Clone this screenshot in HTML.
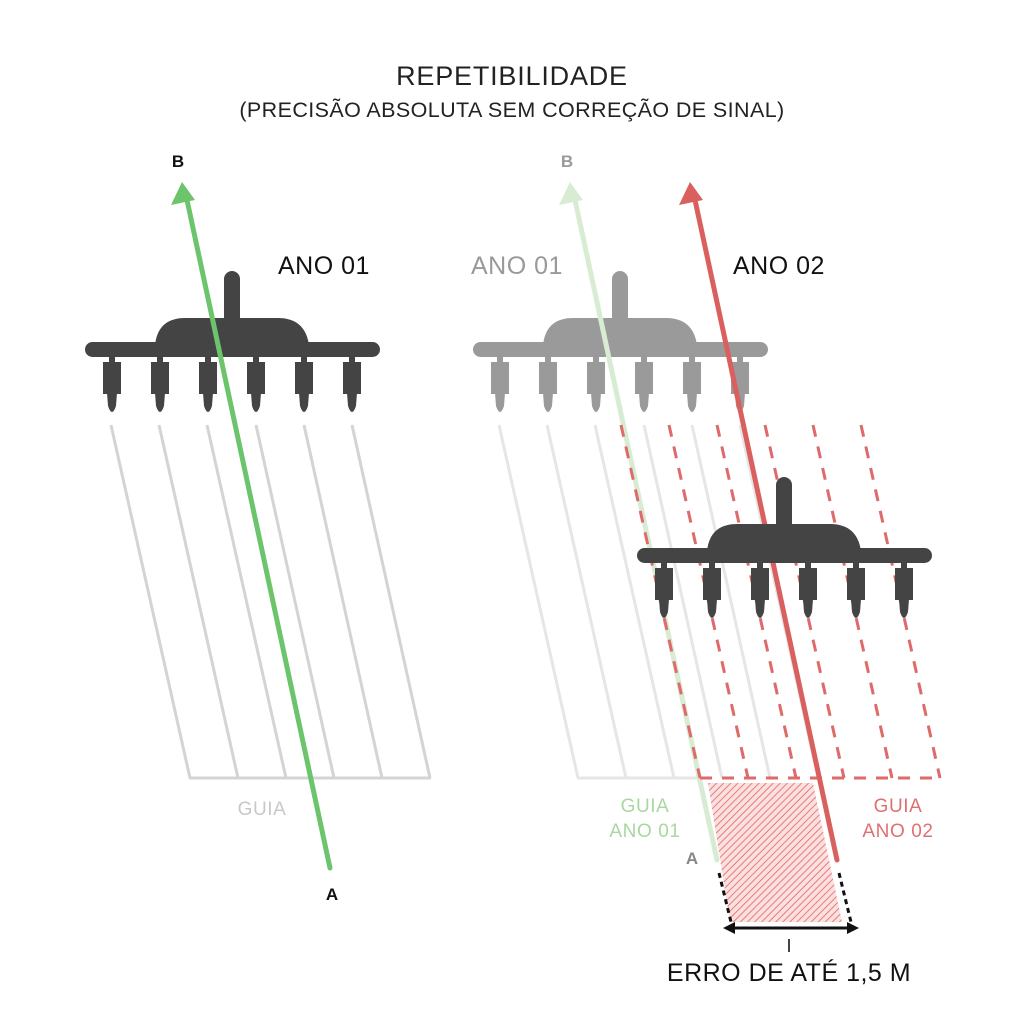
<!DOCTYPE html>
<html><head><meta charset="utf-8"><style>
html,body{margin:0;padding:0;background:#fff}
svg{display:block}
text{font-family:"Liberation Sans",sans-serif}
</style></head><body>
<svg width="1024" height="1024" viewBox="0 0 1024 1024" xmlns="http://www.w3.org/2000/svg">
<defs>
<g id="imp">
  <rect x="85" y="342" width="295" height="15" rx="7.5"/>
  <path d="M155 345 Q158 318 185 318 L278 318 Q305 318 309 345 Z"/>
  <rect x="224" y="271" width="16" height="55" rx="8"/>
  <g id="noz">
    <rect x="109" y="354" width="6" height="10"/>
    <rect x="103" y="362" width="18" height="32"/>
    <path d="M107 393 L117 393 L116 406 Q112 418 108 406 Z"/>
  </g>
  <use href="#noz" x="48"/><use href="#noz" x="96"/><use href="#noz" x="144"/><use href="#noz" x="192"/><use href="#noz" x="240"/>
</g>
<pattern id="hatch" width="5" height="5" patternUnits="userSpaceOnUse" patternTransform="rotate(45)">
  <rect width="5" height="5" fill="#fbe0e0"/>
  <line x1="0" y1="0" x2="0" y2="5" stroke="#e87b7b" stroke-width="2"/>
</pattern>
</defs>

<text x="512" y="85" font-size="27" letter-spacing="0.8" text-anchor="middle" fill="#222">REPETIBILIDADE</text>
<text x="512" y="117" font-size="21.5" letter-spacing="0.4" text-anchor="middle" fill="#222">(PRECISÃO ABSOLUTA SEM CORREÇÃO DE SINAL)</text>

<!-- LEFT -->
<g stroke="#d4d4d4" stroke-width="3" fill="none">
  <line x1="111" y1="425" x2="190" y2="778"/>
  <line x1="159" y1="425" x2="238" y2="778"/>
  <line x1="207" y1="425" x2="286" y2="778"/>
  <line x1="256" y1="425" x2="334" y2="778"/>
  <line x1="304" y1="425" x2="382" y2="778"/>
  <line x1="352" y1="425" x2="430" y2="778"/>
  <line x1="189" y1="778" x2="431" y2="778"/>
</g>
<use href="#imp" fill="#444"/>
<line x1="330" y1="868" x2="187" y2="200" stroke="#6cc46c" stroke-width="5" stroke-linecap="round"/>
<polygon points="182,182 171,205 195,200" fill="#6cc46c"/>
<text x="178" y="167" font-size="17" font-weight="bold" text-anchor="middle" fill="#111">B</text>
<text x="332" y="900" font-size="17" font-weight="bold" text-anchor="middle" fill="#111">A</text>
<text x="278" y="274" font-size="25" letter-spacing="0.5" fill="#111">ANO 01</text>
<text x="262" y="815" font-size="19" letter-spacing="0.6" text-anchor="middle" fill="#c8c8c8">GUIA</text>

<!-- RIGHT -->
<g stroke="#e6e6e6" stroke-width="3" fill="none">
  <line x1="499" y1="425" x2="578" y2="778"/>
  <line x1="547" y1="425" x2="626" y2="778"/>
  <line x1="595" y1="425" x2="674" y2="778"/>
  <line x1="644" y1="425" x2="722" y2="778"/>
  <line x1="692" y1="425" x2="770" y2="778"/>
  <line x1="740" y1="425" x2="818" y2="778"/>
  <line x1="577" y1="778" x2="702" y2="778"/>
</g>
<use href="#imp" fill="#9a9a9a" transform="translate(388,0)"/>
<polygon points="708,783 813,783 842,922 730,922" fill="url(#hatch)"/>
<line x1="717" y1="860" x2="575" y2="200" stroke="#d8ecd4" stroke-width="5" stroke-linecap="round"/>
<polygon points="570,182 559,205 583,200" fill="#d8ecd4"/>
<g stroke="#de6a6a" stroke-width="3" fill="none" stroke-dasharray="12,10">
  <line x1="621" y1="425" x2="700" y2="778"/>
  <line x1="669" y1="425" x2="748" y2="778"/>
  <line x1="717" y1="425" x2="796" y2="778"/>
  <line x1="765" y1="425" x2="844" y2="778"/>
  <line x1="813" y1="425" x2="892" y2="778"/>
  <line x1="861" y1="425" x2="940" y2="778"/>
  <line x1="700" y1="778" x2="942" y2="778"/>
</g>
<line x1="837" y1="860" x2="695" y2="200" stroke="#d9605f" stroke-width="5" stroke-linecap="round"/>
<polygon points="690,182 679,205 703,200" fill="#d9605f"/>
<use href="#imp" fill="#444" transform="translate(552,206)"/>
<g stroke="#111" stroke-width="3" stroke-dasharray="5,4">
  <line x1="719" y1="873" x2="731" y2="922"/>
  <line x1="839" y1="873" x2="851" y2="922"/>
</g>
<line x1="732" y1="928" x2="851" y2="928" stroke="#111" stroke-width="3"/>
<polygon points="723,928 735,922 735,934" fill="#111"/>
<polygon points="859,928 847,922 847,934" fill="#111"/>
<line x1="789" y1="939" x2="789" y2="952" stroke="#444" stroke-width="2"/>
<text x="789" y="981" font-size="25" letter-spacing="0.5" text-anchor="middle" fill="#111">ERRO DE ATÉ 1,5 M</text>
<text x="567" y="167" font-size="17" font-weight="bold" text-anchor="middle" fill="#999">B</text>
<text x="692" y="864" font-size="17" font-weight="bold" text-anchor="middle" fill="#888">A</text>
<text x="471" y="274" font-size="25" letter-spacing="0.5" fill="#999">ANO 01</text>
<text x="733" y="274" font-size="25" letter-spacing="0.5" fill="#111">ANO 02</text>
<text x="645" y="812" font-size="19" letter-spacing="0.6" text-anchor="middle" fill="#a8d8a0">GUIA</text>
<text x="645" y="837" font-size="19" letter-spacing="0.6" text-anchor="middle" fill="#a8d8a0">ANO 01</text>
<text x="898" y="812" font-size="19" letter-spacing="0.6" text-anchor="middle" fill="#e07070">GUIA</text>
<text x="898" y="837" font-size="19" letter-spacing="0.6" text-anchor="middle" fill="#e07070">ANO 02</text>
</svg>
</body></html>
